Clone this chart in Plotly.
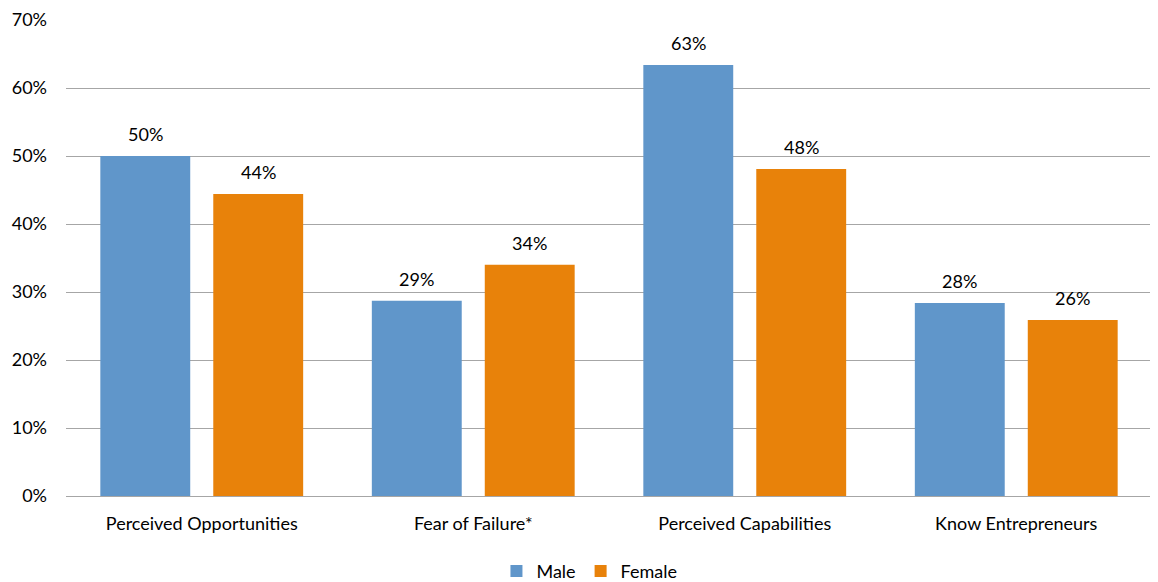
import plotly.graph_objects as go

categories = ["Perceived Opportunities", "Fear of Failure*", "Perceived Capabilities", "Know Entrepreneurs"]
male = [0.500, 0.287, 0.634, 0.284]
female = [0.444, 0.340, 0.481, 0.259]
y_ticks = [0, 0.1, 0.2, 0.3, 0.4, 0.5, 0.6, 0.7]
y_tick_labels = ["0%", "10%", "20%", "30%", "40%", "50%", "60%", "70%"]

FONT = "Lato"
FS = 18
fig = go.Figure()
fig.add_trace(go.Bar(name="Male", x=categories, y=male, marker_color="#6096CA",
                     marker_line_width=0))
fig.add_trace(go.Bar(name="Female", x=categories, y=female, marker_color="#E8820A",
                     marker_line_width=0))

for vals, shift in ((male, -56.5), (female, 56.5)):
    for c, v in zip(categories, vals):
        fig.add_annotation(x=c, y=v, text=f"{v:.0%}", showarrow=False,
                           xshift=shift, yshift=22, yanchor="middle",
                           font=dict(family=FONT, size=FS, color="#000000"))

fig.update_layout(
    width=1158, height=582,
    margin=dict(l=58, r=14, t=12, b=94, autoexpand=False),
    plot_bgcolor="white", paper_bgcolor="white",
    font=dict(family=FONT, size=FS, color="#000000"),
    barmode="group", bargap=0.168, bargroupgap=0.204,
    showlegend=True,
    legend=dict(orientation="h", x=0.482, xanchor="center", y=-0.158, yanchor="middle",
                font=dict(size=FS), itemwidth=30, tracegroupgap=0),
    xaxis=dict(showgrid=False, showline=True, linecolor="#A6A6A6", linewidth=1,
               ticks="", tickfont=dict(size=FS), automargin=False, ticklabelstandoff=11),
    yaxis=dict(range=[0, 0.7], tickvals=y_ticks, ticktext=y_tick_labels,
               showgrid=True, gridcolor="#A6A6A6", gridwidth=1, zeroline=False,
               showline=False, ticks="", tickfont=dict(size=FS), ticklabelstandoff=18,
               automargin=False),
)
fig.write_html("out.html")
